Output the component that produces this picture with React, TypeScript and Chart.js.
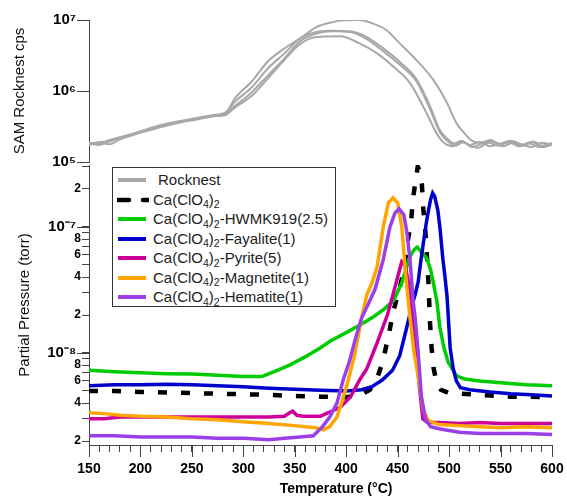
import React, { useEffect, useRef } from 'react';
import { Chart, registerables } from 'chart.js';

Chart.register(...registerables);

const FONT = '"Liberation Sans", Arial, Helvetica, sans-serif';
const AXIS_COLOR = '#444';

// ---------- Top panel: SAM Rocknest cps ----------
const ROCK_A_T = [150, 160, 170, 180, 195, 210, 225, 240, 255, 270, 282, 292, 308, 324, 340, 357, 371, 387, 397, 413, 426, 439, 452, 468, 485, 498, 507, 514, 522, 530, 540, 550, 560, 570, 580, 590, 600];
const ROCK_A = [1.78e5, 1.91e5, 1.95e5, 2.19e5, 2.51e5, 2.95e5, 3.31e5, 3.72e5, 4.07e5, 4.47e5, 4.79e5, 7.94e5, 1.35e6, 2.63e6, 3.98e6, 5.75e6, 7.94e6, 9.33e6, 9.9e6, 1.0e7, 8.91e6, 7.24e6, 4.68e6, 2.75e6, 1.41e6, 6.76e5, 3.55e5, 2.63e5, 2.0e5, 1.86e5, 2.04e5, 1.78e5, 1.95e5, 1.74e5, 1.91e5, 1.7e5, 1.86e5];
const ROCK_B_T = [150, 160, 170, 180, 195, 210, 225, 240, 255, 270, 282, 292, 308, 324, 340, 355, 371, 387, 404, 420, 436, 452, 468, 481, 491, 498, 505, 512, 520, 530, 540, 550, 560, 570, 580, 590, 600];
const ROCK_B = [1.86e5, 1.82e5, 2.04e5, 2.24e5, 2.57e5, 3.02e5, 3.47e5, 3.8e5, 4.17e5, 4.57e5, 4.9e5, 7.08e5, 1.12e6, 2.09e6, 3.39e6, 5.5e6, 6.76e6, 7.08e6, 6.92e6, 5.75e6, 3.98e6, 2.57e6, 1.48e6, 6.31e5, 2.82e5, 2.14e5, 1.82e5, 2.0e5, 1.74e5, 1.91e5, 1.66e5, 1.82e5, 2.0e5, 1.78e5, 1.62e5, 1.86e5, 1.74e5];
const ROCK_C_T = [150, 160, 170, 180, 195, 210, 225, 240, 255, 270, 282, 292, 308, 324, 340, 355, 371, 387, 404, 420, 436, 452, 468, 481, 491, 498, 506, 514, 522, 532, 542, 552, 562, 572, 582, 592, 600];
const ROCK_C = [1.74e5, 1.86e5, 1.78e5, 2.09e5, 2.45e5, 2.88e5, 3.24e5, 3.63e5, 3.98e5, 4.37e5, 4.68e5, 6.17e5, 9.55e5, 1.66e6, 2.88e6, 5.01e6, 6.46e6, 6.92e6, 6.76e6, 5.37e6, 3.63e6, 2.34e6, 1.38e6, 5.75e5, 2.63e5, 2.0e5, 1.7e5, 1.91e5, 1.62e5, 1.82e5, 1.95e5, 1.66e5, 1.86e5, 1.7e5, 1.95e5, 1.62e5, 1.78e5];
const ROCK_D_T = [150, 160, 170, 180, 195, 210, 225, 240, 255, 270, 282, 292, 308, 324, 340, 355, 371, 394, 413, 430, 446, 462, 478, 488, 495, 503, 511, 519, 528, 538, 548, 558, 568, 578, 588, 600];
const ROCK_D = [1.82e5, 1.74e5, 2.0e5, 2.14e5, 2.51e5, 2.82e5, 3.31e5, 3.72e5, 4.07e5, 4.47e5, 4.57e5, 5.89e5, 8.51e5, 1.51e6, 2.75e6, 4.57e6, 5.75e6, 5.89e6, 4.68e6, 3.39e6, 2.19e6, 1.29e6, 4.9e5, 2.51e5, 1.86e5, 1.66e5, 1.95e5, 1.74e5, 1.58e5, 1.86e5, 1.7e5, 1.91e5, 1.66e5, 1.82e5, 1.62e5, 1.74e5];

// ---------- Bottom panel: partial pressure (torr) ----------
const CA_T = [150, 175, 200, 225, 250, 275, 300, 325, 350, 375, 400, 415, 423, 430, 435, 441, 445, 449, 452, 456, 460, 463, 465, 467, 469.5, 471.5, 473.5, 475, 477, 478.5, 480, 481.5, 483, 485, 488, 492, 500, 520, 540, 560, 580, 600];
const CA_V = [5.0e-9, 5.0e-9, 4.9e-9, 4.85e-9, 4.8e-9, 4.75e-9, 4.7e-9, 4.65e-9, 4.55e-9, 4.5e-9, 4.45e-9, 4.7e-9, 5.1e-9, 6.3e-9, 8.3e-9, 1.34e-8, 2.0e-8, 2.7e-8, 3.3e-8, 4.5e-8, 7.9e-8, 1.1e-7, 1.7e-7, 2.2e-7, 3.0e-7, 2.8e-7, 2.2e-7, 1.37e-7, 9e-8, 5.8e-8, 3.5e-8, 1.7e-8, 1.1e-8, 7.5e-9, 5.8e-9, 5.1e-9, 4.8e-9, 4.7e-9, 4.6e-9, 4.5e-9, 4.5e-9, 4.45e-9];

const HW_T = [150, 175, 200, 225, 250, 275, 300, 318, 330, 345, 360, 375, 385, 400, 415, 425, 436, 446, 454, 458, 462, 466, 469, 473, 478, 482, 485, 488, 491, 495, 499, 507, 515, 530, 550, 575, 600];
const HW_V = [7.3e-9, 7.1e-9, 6.95e-9, 6.85e-9, 6.8e-9, 6.65e-9, 6.5e-9, 6.5e-9, 7.1e-9, 8.0e-9, 9.3e-9, 1.1e-8, 1.25e-8, 1.45e-8, 1.7e-8, 1.9e-8, 2.2e-8, 2.6e-8, 3.6e-8, 4.6e-8, 5.8e-8, 6.6e-8, 6.9e-8, 6.3e-8, 5.7e-8, 4.6e-8, 3.5e-8, 2.6e-8, 1.6e-8, 1.1e-8, 8.5e-9, 6.6e-9, 6.2e-9, 6.0e-9, 5.8e-9, 5.6e-9, 5.5e-9];

const FAY_T = [150, 175, 200, 225, 250, 275, 300, 325, 350, 375, 400, 415, 425, 435, 445, 452, 458, 461, 464, 467, 470, 472, 475, 478, 480, 482, 484, 486, 489, 491, 494, 496, 498, 501, 504, 507, 511, 520, 540, 560, 580, 600];
const FAY_V = [5.5e-9, 5.6e-9, 5.6e-9, 5.65e-9, 5.6e-9, 5.5e-9, 5.4e-9, 5.25e-9, 5.15e-9, 5.05e-9, 5.0e-9, 5.1e-9, 5.4e-9, 6.1e-9, 7.3e-9, 9.5e-9, 1.5e-8, 1.9e-8, 2.4e-8, 2.9e-8, 3.7e-8, 5.0e-8, 7.5e-8, 1.1e-7, 1.36e-7, 1.65e-7, 1.86e-7, 1.75e-7, 1.36e-7, 1.0e-7, 5.5e-8, 4.0e-8, 2.8e-8, 1.1e-8, 7.5e-9, 6.0e-9, 5.3e-9, 5.1e-9, 4.9e-9, 4.75e-9, 4.65e-9, 4.55e-9];

const PY_T = [150, 165, 180, 200, 225, 250, 275, 300, 325, 340, 345, 348, 352, 358, 375, 384, 394, 404, 413, 420, 430, 440, 445, 450, 454, 457, 460, 463, 465, 468, 471, 474.5, 479, 490, 510, 530, 550, 575, 600];
const PY_V = [3.0e-9, 3.0e-9, 3.1e-9, 3.1e-9, 3.1e-9, 3.1e-9, 3.1e-9, 3.1e-9, 3.1e-9, 3.15e-9, 3.35e-9, 3.45e-9, 3.2e-9, 3.15e-9, 3.15e-9, 3.4e-9, 3.7e-9, 4.45e-9, 6.1e-9, 7.5e-9, 1.2e-8, 2.0e-8, 2.8e-8, 4.0e-8, 5.3e-8, 5.0e-8, 3.8e-8, 2.6e-8, 1.9e-8, 1.0e-8, 5.5e-9, 3.0e-9, 2.8e-9, 2.8e-9, 2.75e-9, 2.8e-9, 2.75e-9, 2.75e-9, 2.75e-9];

const MAG_T = [150, 165, 180, 200, 225, 250, 275, 300, 325, 350, 370, 378, 384, 391, 397, 402, 408, 415, 420, 425, 430, 436, 441, 445.4, 450, 454, 458, 462, 466, 470, 475, 480, 490, 510, 530, 550, 575, 600];
const MAG_V = [3.35e-9, 3.3e-9, 3.2e-9, 3.15e-9, 3.1e-9, 3.0e-9, 2.95e-9, 2.85e-9, 2.75e-9, 2.65e-9, 2.55e-9, 2.45e-9, 2.6e-9, 3.1e-9, 4.4e-9, 6.1e-9, 9.5e-9, 1.9e-8, 2.9e-8, 3.6e-8, 4.8e-8, 1.0e-7, 1.55e-7, 1.7e-7, 1.55e-7, 1.0e-7, 4.0e-8, 1.9e-8, 1.0e-8, 6.5e-9, 3.5e-9, 2.9e-9, 2.7e-9, 2.65e-9, 2.6e-9, 2.55e-9, 2.6e-9, 2.55e-9];

const HEM_T = [150, 175, 200, 225, 250, 275, 300, 325, 340, 355, 368, 377, 384, 391, 397, 403, 409, 415, 421, 428, 436, 442.5, 447.4, 451.3, 456, 459, 462, 465, 467, 470, 473, 477, 482, 490, 510, 530, 550, 575, 600];
const HEM_V = [2.2e-9, 2.2e-9, 2.15e-9, 2.15e-9, 2.15e-9, 2.1e-9, 2.1e-9, 2.05e-9, 2.1e-9, 2.15e-9, 2.2e-9, 2.6e-9, 3.1e-9, 4.0e-9, 6.1e-9, 8.5e-9, 1.3e-8, 1.9e-8, 2.4e-8, 3.2e-8, 5.5e-8, 1.0e-7, 1.29e-7, 1.39e-7, 1.25e-7, 9.0e-8, 5.5e-8, 2.6e-8, 1.9e-8, 1.0e-8, 4.5e-9, 3.0e-9, 2.6e-9, 2.5e-9, 2.35e-9, 2.3e-9, 2.3e-9, 2.3e-9, 2.25e-9];

// ---------- Axes ----------
const X_TICKS = [150, 160, 170, 180, 190, 200, 210, 220, 230, 240, 250, 260, 270, 280, 290, 300, 310, 320, 330, 340, 350, 360, 370, 380, 390, 400, 410, 420, 430, 440, 450, 460, 470, 480, 490, 500, 510, 520, 530, 540, 550, 560, 570, 580, 590, 600];
const X_MAJOR = [150, 200, 250, 300, 350, 400, 450, 500, 550, 600];

const Y_TICKS_BOT = [2e-9, 3e-9, 4e-9, 5e-9, 6e-9, 7e-9, 8e-9, 9e-9, 1e-8, 2e-8, 3e-8, 4e-8, 5e-8, 6e-8, 7e-8, 8e-8, 9e-8, 1e-7, 2e-7, 3e-7];
const Y_LABELS_BOT = ['2', '', '4', '', '6', '', '8', '', '10\u207B\u2078\u2004', '2', '', '4', '', '6', '', '8', '', '10\u207B\u2077\u2004', '2', ''];
const Y_MAJOR_BOT = [1e-8, 1e-7];

const Y_TICKS_TOP = [1e5, 1e6, 1e7];
const Y_LABELS_TOP = ['10\u2075\u2004', '10\u2076\u2004', '10\u2077\u2004'];

const LEGEND_LABELS = ['Rocknest', 'Ca(ClO4)2', 'Ca(ClO4)2-HWMK919(2.5)', 'Ca(ClO4)2-Fayalite(1)', 'Ca(ClO4)2-Pyrite(5)', 'Ca(ClO4)2-Magnetite(1)', 'Ca(ClO4)2-Hematite(1)'];
const COLORS = ['#a8a8a8', '#000000', '#00cc00', '#0000cc', '#cc0099', '#ffa500', '#9b3fe8'];

const pts = (t: number[], v: number[]) => t.map((x, i) => ({ x, y: v[i] }));

const zeroPad = (s: any) => {
  s.paddingLeft = 0;
  s.paddingRight = 0;
  s.paddingTop = 0;
  s.paddingBottom = 0;
};

const longTicks = {
  id: 'longTicks',
  afterDraw(chart: any, _args: any, opts: any) {
    const ctx = chart.ctx;
    ctx.save();
    ctx.strokeStyle = AXIS_COLOR;
    ctx.lineWidth = 1;
    const ys = chart.scales.y;
    if (ys && opts.yMajor) {
      for (const v of opts.yMajor) {
        const p = Math.round(ys.getPixelForValue(v)) + 0.5;
        ctx.beginPath();
        ctx.moveTo(ys.right - 12, p);
        ctx.lineTo(ys.right, p);
        ctx.stroke();
      }
    }
    const xs = chart.scales.x;
    if (xs && opts.xMajor) {
      for (const v of opts.xMajor) {
        const p = Math.round(xs.getPixelForValue(v)) + 0.5;
        ctx.beginPath();
        ctx.moveTo(p, xs.top);
        ctx.lineTo(p, xs.top + 12);
        ctx.stroke();
      }
    }
    ctx.restore();
  },
};

function Sub({ children }: { children: React.ReactNode }) {
  return <span style={{ fontSize: '0.7em', position: 'relative', top: '0.38em' }}>{children}</span>;
}

function LegendText({ label }: { label: string }) {
  if (!label.startsWith('Ca(ClO4)2')) return <span>{label}</span>;
  return (
    <span>
      Ca(ClO<Sub>4</Sub>)<Sub>2</Sub>
      {label.slice('Ca(ClO4)2'.length)}
    </span>
  );
}

export default function App() {
  const topRef = useRef<HTMLCanvasElement>(null);
  const botRef = useRef<HTMLCanvasElement>(null);

  useEffect(() => {
    const tickCommon = { color: '#000', autoSkip: false, maxRotation: 0 };

    const grayLine = { borderColor: COLORS[0], borderWidth: 2, cubicInterpolationMode: 'monotone' };

    const topChart = new Chart(topRef.current!, {
      type: 'line',
      data: {
        datasets: [
          { label: 'Rocknest', data: pts(ROCK_A_T, ROCK_A), ...grayLine },
          { label: 'Rocknest 2', data: pts(ROCK_B_T, ROCK_B), ...grayLine },
          { label: 'Rocknest 3', data: pts(ROCK_C_T, ROCK_C), ...grayLine },
          { label: 'Rocknest 4', data: pts(ROCK_D_T, ROCK_D), ...grayLine },
        ],
      },
      options: {
        responsive: false,
        maintainAspectRatio: false,
        animation: false,
        layout: { padding: { top: 20, right: 15, bottom: 13, left: 0 } },
        elements: { point: { radius: 0 }, line: { tension: 0 } },
        plugins: { legend: { display: false }, tooltip: { enabled: false }, longTicks: { yMajor: Y_TICKS_TOP } } as any,
        scales: {
          x: { type: 'linear', min: 150, max: 600, display: false },
          y: {
            type: 'logarithmic',
            min: 1e5,
            max: 1e7,
            bounds: 'data',
            afterBuildTicks: (s: any) => { s.ticks = Y_TICKS_TOP.map((value) => ({ value })); },
            afterFit: (s: any) => { s.width = 89; zeroPad(s); },
            ticks: {
              ...tickCommon,
              padding: 1,
              font: { family: FONT, size: 15, weight: 'bold' },
              callback: (_v: any, i: number) => Y_LABELS_TOP[i],
            },
            grid: { drawOnChartArea: false, tickLength: 7, color: AXIS_COLOR },
            border: { color: AXIS_COLOR },
            title: {
              display: true,
              text: 'SAM Rocknest cps',
              color: '#111',
              font: { family: FONT, size: 15 },
              padding: { top: 11, bottom: 0 },
            },
          },
        },
      } as any,
      plugins: [longTicks],
    });

    const series = [
      { t: CA_T, v: CA_V, c: COLORS[1], dash: [9, 14], w: 4.5 },
      { t: HW_T, v: HW_V, c: COLORS[2] },
      { t: FAY_T, v: FAY_V, c: COLORS[3] },
      { t: PY_T, v: PY_V, c: COLORS[4] },
      { t: MAG_T, v: MAG_V, c: COLORS[5] },
      { t: HEM_T, v: HEM_V, c: COLORS[6] },
    ];

    const botChart = new Chart(botRef.current!, {
      type: 'line',
      data: {
        datasets: series.map((s, i) => ({
          label: LEGEND_LABELS[i + 1],
          data: pts(s.t, s.v),
          borderColor: s.c,
          borderWidth: (s as any).w ?? 3.5,
          borderDash: (s as any).dash ?? [],
          order: series.length - i,
        })),
      },
      options: {
        responsive: false,
        maintainAspectRatio: false,
        animation: false,
        layout: { padding: { top: 15, right: 15, bottom: 0, left: 0 } },
        elements: { point: { radius: 0 }, line: { tension: 0, borderCapStyle: 'butt' } },
        plugins: {
          legend: { display: false },
          tooltip: { enabled: false },
          longTicks: { yMajor: Y_MAJOR_BOT, xMajor: X_MAJOR },
        } as any,
        scales: {
          x: {
            type: 'linear',
            min: 150,
            max: 600,
            afterBuildTicks: (s: any) => { s.ticks = X_TICKS.map((value) => ({ value })); },
            afterFit: (s: any) => { s.height = 53; zeroPad(s); },
            ticks: {
              ...tickCommon,
              padding: 9,
              font: { family: FONT, size: 14, weight: 'bold' },
              callback: (v: any) => (X_MAJOR.includes(v) ? String(v) : ''),
            },
            grid: { drawOnChartArea: false, tickLength: 7, color: AXIS_COLOR },
            border: { color: AXIS_COLOR },
            title: {
              display: true,
              text: '        Temperature (\u00B0C)',
              color: '#000',
              font: { family: FONT, size: 14, weight: 'bold' },
              padding: { top: 0, bottom: 0 },
            },
          },
          y: {
            type: 'logarithmic',
            min: 1.86e-9,
            max: 3.1e-7,
            bounds: 'data',
            afterBuildTicks: (s: any) => { s.ticks = Y_TICKS_BOT.map((value) => ({ value })); },
            afterFit: (s: any) => { s.width = 89; zeroPad(s); },
            ticks: {
              ...tickCommon,
              padding: 1,
              font: (ctx: any) => ({
                family: FONT,
                size: (Y_LABELS_BOT[ctx.index] || '').startsWith('10') ? 15 : 12,
                weight: 'bold',
              }),
              callback: (_v: any, i: number) => Y_LABELS_BOT[i],
            },
            grid: { drawOnChartArea: false, tickLength: 7, color: AXIS_COLOR },
            border: { color: AXIS_COLOR },
            title: {
              display: true,
              text: 'Partial Pressure (torr)',
              color: '#111',
              font: { family: FONT, size: 15 },
              padding: { top: 16, bottom: 0 },
            },
          },
        },
      } as any,
      plugins: [longTicks],
    });

    return () => {
      topChart.destroy();
      botChart.destroy();
    };
  }, []);

  const rowTop0 = 179;
  const rowStep = 19.5;

  return (
    <div style={{ position: 'absolute', left: 0, top: 0, width: 567, height: 498, background: '#fff', overflow: 'hidden' }}>
      <canvas ref={topRef} width={567} height={175} style={{ position: 'absolute', left: 0, top: 0, width: 567, height: 175 }} />
      <canvas ref={botRef} width={567} height={348} style={{ position: 'absolute', left: 0, top: 150, width: 567, height: 348 }} />
      <div
        style={{
          position: 'absolute',
          left: 112,
          top: 167,
          width: 224,
          height: 140,
          border: '1px solid #333',
          background: '#fff',
          fontFamily: FONT,
          fontSize: 15,
          color: '#222',
          boxSizing: 'border-box',
        }}
      >
        {LEGEND_LABELS.map((label, i) => {
          const cy = rowTop0 + i * rowStep - 167;
          return (
            <div key={label} style={{ position: 'absolute', left: 0, top: cy - 10, height: 20, width: '100%' }}>
              <svg width={32} height={20} style={{ position: 'absolute', left: 4, top: 0 }}>
                <line
                  x1={1}
                  y1={10}
                  x2={i === 1 ? 31 : 29}
                  y2={10}
                  stroke={COLORS[i]}
                  strokeWidth={i === 1 ? 4.5 : 4}
                  strokeDasharray={i === 1 ? '11 14' : undefined}
                  strokeLinecap={i === 1 ? 'round' : 'butt'}
                />
              </svg>
              <div
                style={{
                  position: 'absolute',
                  left: i === 0 ? 45 : 40,
                  top: 0,
                  height: 20,
                  lineHeight: '20px',
                  whiteSpace: 'nowrap',
                }}
              >
                <LegendText label={label} />
              </div>
            </div>
          );
        })}
      </div>
    </div>
  );
}
